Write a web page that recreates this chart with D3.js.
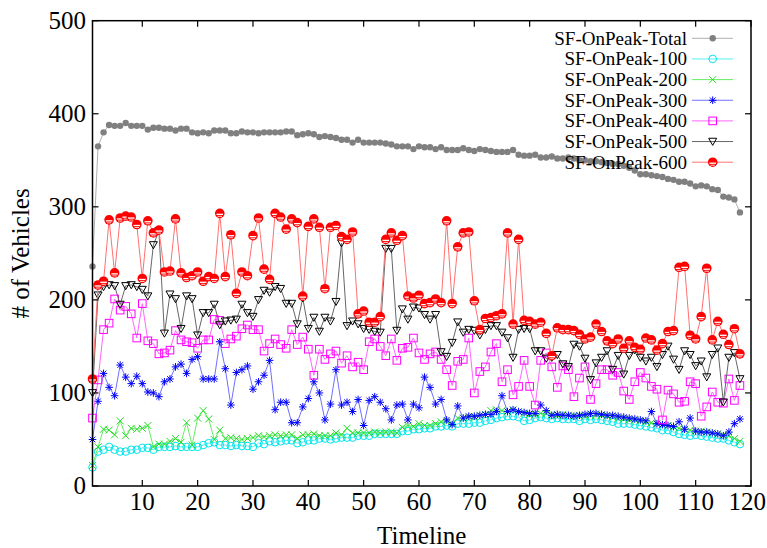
<!DOCTYPE html>
<html><head><meta charset="utf-8">
<script src="https://cdn.jsdelivr.net/npm/d3@7"></script>
<style>body{margin:0;background:#fff;} svg{display:block;} text{font-family:"Liberation Serif","DejaVu Serif",serif;}</style>
</head><body><svg id="c" width="767" height="548"></svg>
<script>
const seriesNames = ["SF-OnPeak-Total","SF-OnPeak-100","SF-OnPeak-200","SF-OnPeak-300","SF-OnPeak-400","SF-OnPeak-500","SF-OnPeak-600"];
const xTicks = [10,20,30,40,50,60,70,80,90,100,110,120];
const yTicks = [0,100,200,300,400,500];

const total = [236,365,380,388,387,387,390,387,387,387,
 383,385,385,384,384,382,384,384,380,379,
 380,379,382,382,382,379,379,381,380,380,
 379,380,380,380,380,381,381,377,378,379,
 378,375,376,375,374,372,372,369,372,369,
 369,369,369,368,367,365,365,365,362,365,
 364,364,362,364,361,361,361,363,361,360,
 362,361,360,359,359,359,361,356,355,355,
 356,353,353,354,352,352,353,352,350,350,
 349,349,348,347,346,346,344,342,339,335,
 335,334,333,332,330,329,327,327,325,322,
 323,322,319,318,311,310,308,294];
const s100 = [20,37,39,42,39,37,37,39,39,41,
 41,39,42,42,42,43,42,42,42,42,
 44,46,47,44,44,43,44,43,43,42,
 46,45,48,47,48,49,49,46,47,49,
 49,51,51,50,51,52,52,52,54,54,
 54,56,56,56,56,56,59,59,61,61,
 62,62,64,64,65,64,67,67,67,68,
 68,70,71,73,74,75,75,74,70,71,
 73,74,73,72,73,72,72,72,70,72,
 71,72,71,70,69,67,67,67,66,65,
 64,63,62,60,60,58,56,55,54,55,
 54,53,52,51,51,49,47,45];
const s200 = [22,42,61,60,55,70,54,62,61,62,
 65,42,45,45,48,51,47,68,44,73,
 81,72,50,60,51,52,51,50,51,52,
 54,53,54,55,54,55,55,51,55,55,
 56,54,54,54,57,55,62,57,57,57,
 57,58,57,58,58,57,63,65,64,67,
 65,65,67,69,69,67,73,73,74,74,
 76,77,81,82,81,80,82,80,78,77,
 77,78,78,77,76,77,76,76,76,75,
 76,76,76,75,74,73,72,71,71,70,
 69,68,67,66,65,64,62,61,60,59,
 59,58,57,56,55,54,51,48];
const s300 = [50,91,121,106,97,130,117,110,118,110,
 101,100,96,112,115,128,131,121,136,139,
 115,115,115,155,126,87,122,125,129,104,
 112,119,135,82,90,90,68,68,85,94,
 112,100,71,88,125,87,90,80,93,65,
 92,96,90,83,71,87,88,71,88,84,
 117,106,88,93,71,66,86,73,75,75,
 76,77,77,80,97,80,82,80,79,78,
 78,87,81,76,77,76,76,75,76,77,
 78,78,77,76,76,75,74,73,72,71,
 70,80,67,66,65,64,69,61,73,59,
 58,58,57,56,54,58,67,72];
const s400 = [73,114,168,175,201,189,193,185,159,196,
 156,153,142,143,146,167,157,155,154,148,
 157,157,179,178,153,158,161,169,173,168,
 168,145,153,158,152,148,168,152,160,147,
 119,147,136,142,145,132,140,128,133,125,
 155,158,150,140,158,135,148,149,159,143,
 136,142,144,136,125,108,134,136,159,100,
 123,128,144,153,112,125,98,107,135,107,
 87,135,143,128,106,129,125,96,116,128,
 93,110,125,125,119,122,102,93,112,122,
 116,107,104,71,103,99,90,91,112,110,
 75,85,101,90,89,115,92,108];
const s500 = [100,205,214,216,215,195,215,216,214,211,
 204,259,274,164,206,201,169,204,201,162,
 186,186,195,173,177,178,179,195,186,182,
 200,210,208,214,212,196,196,174,202,169,
 181,166,181,177,198,261,172,177,174,169,
 168,166,165,255,255,167,190,179,192,191,
 184,179,184,144,139,154,176,165,168,167,
 162,168,172,172,165,159,138,168,169,169,
 145,145,137,138,141,131,128,152,150,137,
 114,132,138,145,125,140,120,140,146,138,
 134,138,128,141,150,136,125,145,141,129,
 134,117,141,148,90,138,143,115];
const s600 = [115,216,220,286,229,288,290,289,281,223,
 285,272,275,230,231,287,229,224,226,230,
 220,225,223,293,225,270,207,230,226,269,
 288,233,222,293,289,276,287,283,204,279,
 287,278,212,278,280,268,265,273,185,188,
 176,176,182,265,272,264,269,204,202,205,
 196,197,201,197,285,196,257,272,273,199,
 168,180,181,183,185,272,174,265,178,177,
 174,176,164,140,170,168,168,167,163,158,
 160,174,166,156,153,158,148,156,149,147,
 159,157,146,153,166,167,235,236,162,158,
 182,234,157,177,163,152,169,142];

const seriesValues = [total,s100,s200,s300,s400,s500,s600];
const colors = ["#808080","#00e5ee","#22dd22","#0000ff","#ff00ff","#000000","#ff0000"];
const lineColors = ["#b0b0b0","#55f0f5","#66ee66","#7070ff","#ff66ff","#666666","#ff7070"];
const markers = ["dot","ocircle","cross","star","square","tri","redball"];

const svg = d3.select("#c");
const m = {l:92.5, r:751, t:20.7, b:486};
const x = d3.scaleLinear().domain([1,120]).range([m.l, m.r]);
const y = d3.scaleLinear().domain([0,500]).range([m.b, m.t]);

function drawMarker(g, type, cx, cy, color) {
  if (type === "dot") {
    g.append("circle").attr("cx",cx).attr("cy",cy).attr("r",3.2).attr("fill",color);
  } else if (type === "ocircle") {
    g.append("circle").attr("cx",cx).attr("cy",cy).attr("r",3.8).attr("fill","none").attr("stroke",color).attr("stroke-width",1);
  } else if (type === "cross") {
    const s=3.5;
    g.append("path").attr("d",`M${cx-s},${cy-s}L${cx+s},${cy+s}M${cx-s},${cy+s}L${cx+s},${cy-s}`).attr("stroke",color).attr("stroke-width",1).attr("fill","none");
  } else if (type === "star") {
    const s=3.8, d=2.8;
    g.append("path").attr("d",`M${cx-s},${cy}L${cx+s},${cy}M${cx},${cy-s}L${cx},${cy+s}M${cx-d},${cy-d}L${cx+d},${cy+d}M${cx-d},${cy+d}L${cx+d},${cy-d}`).attr("stroke",color).attr("stroke-width",1).attr("fill","none");
  } else if (type === "square") {
    const s=3.8;
    g.append("rect").attr("x",cx-s).attr("y",cy-s).attr("width",2*s).attr("height",2*s).attr("fill","none").attr("stroke",color).attr("stroke-width",1);
  } else if (type === "tri") {
    g.append("path").attr("d",`M${cx-4},${cy-3.3}L${cx+4},${cy-3.3}L${cx},${cy+3.8}Z`).attr("fill","none").attr("stroke",color).attr("stroke-width",1);
  } else if (type === "redball") {
    g.append("circle").attr("cx",cx).attr("cy",cy).attr("r",4.8).attr("fill",color);
    g.append("path").attr("d",`M${cx-3.3},${cy+1}L${cx+3.3},${cy+1}`).attr("stroke","#fff").attr("stroke-width",1.3);
    g.append("path").attr("d",`M${cx-2.2},${cy+3}L${cx+2.2},${cy+3}`).attr("stroke","#fff").attr("stroke-width",0.8);
  }
}

// series
const line = d3.line().x((d,i)=>x(i+1)).y(d=>y(d));
const plot = svg.append("g");
seriesValues.forEach((vals,k)=>{
  const g = plot.append("g");
  g.append("path").datum(vals).attr("d",line).attr("fill","none")
    .attr("stroke",lineColors[k]).attr("stroke-width",1);
  vals.forEach((v,i)=>drawMarker(g, markers[k], x(i+1), y(v), colors[k]));
});

// frame
svg.append("rect").attr("x",m.l).attr("y",m.t).attr("width",m.r-m.l).attr("height",m.b-m.t)
  .attr("fill","none").attr("stroke","#000").attr("stroke-width",1.5);

// axes (ticks inward, mirrored)
const tl = 6;
const ax = svg.append("g").attr("stroke","#000").attr("stroke-width",1.2);
xTicks.forEach(t=>{
  ax.append("line").attr("x1",x(t)).attr("x2",x(t)).attr("y1",m.b).attr("y2",m.b-tl);
  ax.append("line").attr("x1",x(t)).attr("x2",x(t)).attr("y1",m.t).attr("y2",m.t+tl);
});
yTicks.forEach(t=>{
  ax.append("line").attr("x1",m.l).attr("x2",m.l+tl).attr("y1",y(t)).attr("y2",y(t));
  ax.append("line").attr("x1",m.r).attr("x2",m.r-tl).attr("y1",y(t)).attr("y2",y(t));
});
const fs = 25;
xTicks.forEach(t=>{
  const last = t === 120;
  svg.append("text").attr("x", last ? 766 : x(t)).attr("y",510)
    .attr("text-anchor", last ? "end" : "middle")
    .attr("font-size",fs).text(t);
});
yTicks.forEach(t=>{
  svg.append("text").attr("x",86).attr("y",y(t)+8).attr("text-anchor","end")
    .attr("font-size",fs).text(t);
});
svg.append("text").attr("x",(m.l+m.r)/2).attr("y",544).attr("text-anchor","middle")
  .attr("font-size",fs).text("Timeline");
svg.append("text").attr("transform",`translate(29,${(m.t+m.b)/2}) rotate(-90)`)
  .attr("text-anchor","middle").attr("font-size",fs).text("# of Vehicles");

// legend
const lg = svg.append("g");
seriesNames.forEach((n,k)=>{
  const ly = 38.3 + k*20.65;
  lg.append("text").attr("x",687).attr("y",ly+6.5).attr("text-anchor","end")
    .attr("font-size",19).text(n);
  lg.append("line").attr("x1",692).attr("x2",733).attr("y1",ly).attr("y2",ly)
    .attr("stroke",lineColors[k]).attr("stroke-width",1);
  drawMarker(lg, markers[k], 712.7, ly, colors[k]);
});
</script></body></html>
